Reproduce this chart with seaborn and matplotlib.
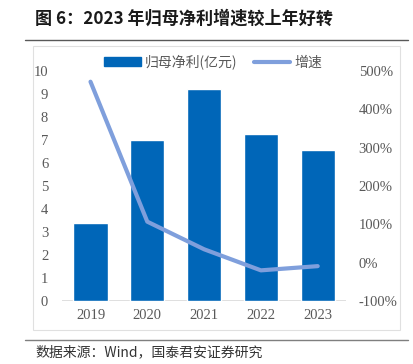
import numpy as np
import pandas as pd
import seaborn as sns
import matplotlib.pyplot as plt
from matplotlib.lines import Line2D
from matplotlib.patches import Patch

years = ['2019', '2020', '2021', '2022', '2023']
net_profit = [3.4, 7.0, 9.2, 7.25, 6.55]   # 亿元
growth = [472, 107, 35, -20, -9]            # %

BAR_COLOR = '#0066B8'
LINE_COLOR = '#7F9FDC'
TEXT_GRAY = '#595959'
CJK = ['Noto Sans CJK SC', 'DejaVu Sans']
SERIF = ['Liberation Serif', 'DejaVu Serif']

sns.set_theme(style='white')
plt.rcParams['font.family'] = CJK

df = pd.DataFrame({'year': years, 'profit': net_profit, 'growth': growth})

fig = plt.figure(figsize=(4.14, 3.64), dpi=100)
ax = fig.add_axes([0.150, 0.173, 0.686, 0.632])

sns.barplot(data=df, x='year', y='profit', color=BAR_COLOR, width=0.6,
            saturation=1, ax=ax)
ax.set_ylim(0, 10)
ax.set_yticks(range(0, 11))
ax.set_xlim(-0.5, len(years) - 0.5)
ax.set_xlabel('')
ax.set_ylabel('')
for s in ax.spines.values():
    s.set_visible(False)
ax.axhline(0, color='#D9D9D9', lw=1.2, zorder=0)

ax2 = ax.twinx()
sns.lineplot(x=np.arange(len(years)), y=df['growth'], color=LINE_COLOR,
             lw=3, ax=ax2, solid_capstyle='round')
ax2.set_ylim(-100, 500)
ax2.set_yticks(range(-100, 501, 100))
ax2.set_yticklabels([f'{v}%' for v in range(-100, 501, 100)])
ax2.set_ylabel('')
for s in ax2.spines.values():
    s.set_visible(False)

for a in (ax, ax2):
    a.tick_params(length=0, labelsize=10.5, colors=TEXT_GRAY, pad=4)
    for lab in a.get_xticklabels() + a.get_yticklabels():
        lab.set_family(SERIF)
ax.tick_params(axis='x', pad=6)
ax.tick_params(axis='y', pad=10)
ax2.tick_params(axis='y', pad=9)

handles = [Patch(color=BAR_COLOR), Line2D([], [], color=LINE_COLOR, lw=3)]
fig.legend(handles, ['归母净利(亿元)', '增速'], loc='center', ncol=2,
           bbox_to_anchor=(0.515, 0.83), frameon=False, fontsize=10,
           labelcolor=TEXT_GRAY, handlelength=2.6, handleheight=0.55,
           handletextpad=0.3, columnspacing=1.2)

# title, frame lines and source
fig.text(0.085, 0.948, '图 6：2023 年归母净利增速较上年好转', fontsize=12.3,
         fontweight='bold', color='#1a1a1a', va='center', family=CJK)
fig.add_artist(plt.Line2D([0.06, 0.985], [0.89, 0.89], color='#595959', lw=1))
fig.add_artist(plt.Line2D([0.06, 0.985], [0.066, 0.066], color='#7f7f7f', lw=1))
fig.add_artist(plt.Rectangle((0.08, 0.093), 0.886, 0.782, fill=False,
                             ec='#E0E0E0', lw=0.8))
fig.text(0.085, 0.033, '数据来源：Wind，国泰君安证券研究', fontsize=10,
         color='#333333', va='center', family=CJK)

fig.savefig('out.png', dpi=100)
